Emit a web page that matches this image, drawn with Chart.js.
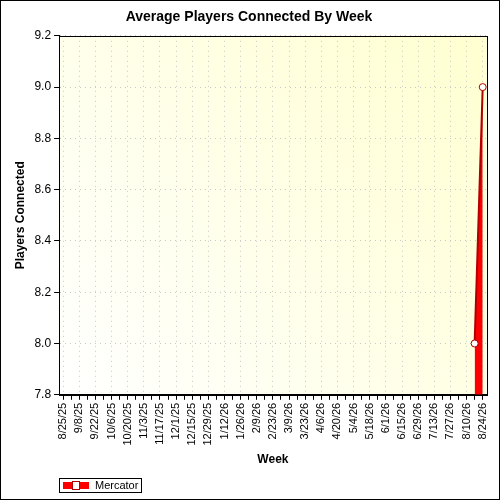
<!DOCTYPE html>
<html>
<head>
<script src="https://cdn.jsdelivr.net/npm/chart.js@4"></script>
<style>
body { margin: 0; background: #fff; }
#wrap { width: 498px; height: 498px; border: 1px solid #000; }
</style>
</head>
<body>
<div id="wrap"><canvas id="chart" width="498" height="498"></canvas></div>
<script>
const weeks = ['8/25/25','9/1/25','9/8/25','9/15/25','9/22/25','9/29/25','10/6/25','10/13/25','10/20/25','10/27/25',
  '11/3/25','11/10/25','11/17/25','11/24/25','12/1/25','12/8/25','12/15/25','12/22/25','12/29/25','1/5/26',
  '1/12/26','1/19/26','1/26/26','2/2/26','2/9/26','2/16/26','2/23/26','3/2/26','3/9/26','3/16/26',
  '3/23/26','3/30/26','4/6/26','4/13/26','4/20/26','4/27/26','5/4/26','5/11/26','5/18/26','5/25/26',
  '6/1/26','6/8/26','6/15/26','6/22/26','6/29/26','7/6/26','7/13/26','7/20/26','7/27/26','8/3/26',
  '8/10/26','8/17/26','8/24/26']
const mercator = weeks.map(() => null)
mercator[51] = 8.0
mercator[52] = 9.0

const bgPlugin = {
    id: 'bg',
    beforeDraw(chart) {
        const { ctx, chartArea: a } = chart
        const g = ctx.createLinearGradient(a.left, a.bottom, a.right, a.top)
        g.addColorStop(0, '#ffffff')
        g.addColorStop(1, '#ffffd0')
        ctx.save()
        ctx.fillStyle = g
        ctx.fillRect(a.left, a.top, a.right - a.left, a.bottom - a.top)
        ctx.restore()
    },
    afterDraw(chart) {
        const { ctx, chartArea: a } = chart
        ctx.save()
        ctx.strokeStyle = '#000'
        ctx.lineWidth = 1
        ctx.strokeRect(Math.round(a.left) + 0.5, Math.round(a.top) + 0.5, Math.round(a.right - a.left), Math.round(a.bottom - a.top))
        // legend
        ctx.strokeRect(58.5, 477.5, 82, 14)
        ctx.fillStyle = '#ff0000'
        ctx.fillRect(62, 481, 26, 7)
        ctx.fillStyle = '#fff'
        ctx.strokeStyle = '#b00000'
        ctx.fillRect(72, 481, 6, 7)
        ctx.strokeRect(71.5, 480.5, 7, 8)
        ctx.fillStyle = '#000'
        ctx.font = '11px Arial, Liberation Sans'
        ctx.textBaseline = 'middle'
        ctx.fillText('Mercator', 94, 485)
        ctx.restore()
    }
}

new Chart(document.getElementById('chart'), {
    type: 'line',
    data: {
        labels: weeks,
        datasets: [{
            label: 'Mercator',
            data: mercator,
            borderColor: '#b00000',
            backgroundColor: '#ff0000',
            borderWidth: 2,
            fill: 'start',
            tension: 0,
            pointRadius: 3.5,
            pointBackgroundColor: '#fff',
            pointBorderColor: '#b00000',
            pointBorderWidth: 1
        }]
    },
    options: {
        responsive: false,
        animation: false,
        layout: { padding: { left: 8, right: 10, top: 0, bottom: 28 } },
        plugins: {
            title: {
                display: true,
                text: 'Average Players Connected By Week',
                color: '#000',
                font: { family: 'Arial, Liberation Sans', size: 14, weight: 'bold' },
                padding: { top: 8, bottom: 10 }
            },
            legend: { display: false }
        },
        scales: {
            x: {
                offset: true,
                grid: {
                    color: c => c.index % 2 === 0 ? '#c8c8c8' : 'rgba(0,0,0,0)',
                    tickColor: '#000',
                    tickLength: 5
                },
                border: { color: '#000', dash: [1, 4] },
                title: { display: true, text: 'Week', color: '#000', font: { family: 'Arial, Liberation Sans', size: 12, weight: 'bold' } },
                ticks: {
                    autoSkip: false,
                    maxRotation: 90, minRotation: 90,
                    color: '#000',
                    font: { family: 'Arial, Liberation Sans', size: 11 },
                    callback: (v, i) => i % 2 === 0 ? weeks[i] : ''
                }
            },
            y: {
                min: 7.8, max: 9.2,
                grid: { color: '#c8c8c8', tickColor: '#000', tickLength: 5 },
                border: { color: '#000', dash: [1, 4] },
                title: { display: true, text: 'Players Connected', color: '#000', font: { family: 'Arial, Liberation Sans', size: 12, weight: 'bold' } },
                ticks: {
                    stepSize: 0.2,
                    color: '#000',
                    font: { family: 'Arial, Liberation Sans', size: 12 },
                    callback: v => v.toFixed(1)
                }
            }
        }
    },
    plugins: [bgPlugin]
})
</script>
</body>
</html>
